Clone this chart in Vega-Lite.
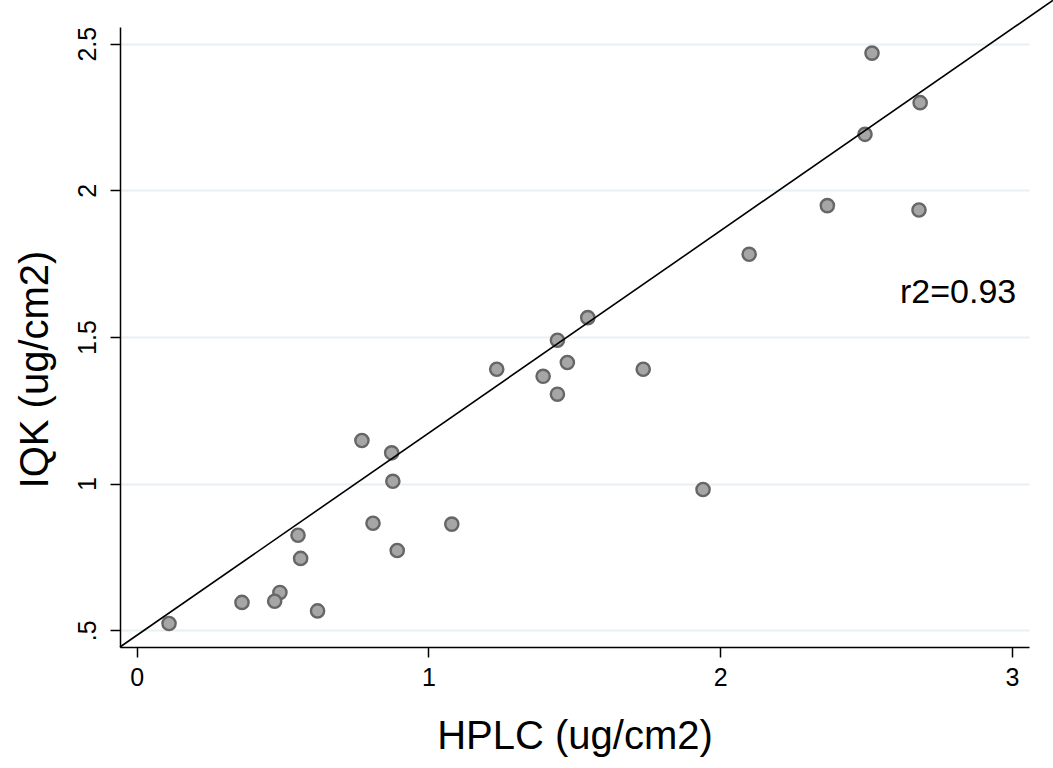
{
  "$schema": "https://vega.github.io/schema/vega-lite/v6.json",
  "width": 909,
  "height": 620,
  "autosize": {"type": "none"},
  "padding": {"left": 120, "top": 27, "right": 24, "bottom": 121},
  "background": "white",
  "config": {
    "view": {"stroke": null},
    "font": "Liberation Sans"
  },
  "datasets": {
    "pts": [
      {"HPLC": 2.520, "IQK": 2.468},
      {"HPLC": 2.685, "IQK": 2.299},
      {"HPLC": 2.496, "IQK": 2.191},
      {"HPLC": 2.367, "IQK": 1.948},
      {"HPLC": 2.681, "IQK": 1.933},
      {"HPLC": 2.099, "IQK": 1.782},
      {"HPLC": 1.546, "IQK": 1.566},
      {"HPLC": 1.442, "IQK": 1.489},
      {"HPLC": 1.476, "IQK": 1.413},
      {"HPLC": 1.736, "IQK": 1.390},
      {"HPLC": 1.234, "IQK": 1.390},
      {"HPLC": 1.393, "IQK": 1.366},
      {"HPLC": 1.442, "IQK": 1.305},
      {"HPLC": 0.772, "IQK": 1.147},
      {"HPLC": 0.874, "IQK": 1.105},
      {"HPLC": 0.878, "IQK": 1.008},
      {"HPLC": 1.941, "IQK": 0.980},
      {"HPLC": 0.810, "IQK": 0.865},
      {"HPLC": 1.080, "IQK": 0.862},
      {"HPLC": 0.553, "IQK": 0.824},
      {"HPLC": 0.562, "IQK": 0.745},
      {"HPLC": 0.893, "IQK": 0.772},
      {"HPLC": 0.491, "IQK": 0.629},
      {"HPLC": 0.473, "IQK": 0.599},
      {"HPLC": 0.361, "IQK": 0.595},
      {"HPLC": 0.620, "IQK": 0.566},
      {"HPLC": 0.111, "IQK": 0.523}
    ],
    "fit": [
      {"x": -0.057, "y": 0.443, "x2": 3.14, "y2": 2.648}
    ],
    "lab": [
      {"x": 2.815, "y": 1.649, "t": "r2=0.93"}
    ]
  },
  "layer": [
    {
      "data": {"name": "pts"},
      "mark": {"type": "point", "shape": "circle", "filled": true, "fill": "#a6a6a6", "stroke": "#666666", "strokeWidth": 2.4, "size": 175, "opacity": 1},
      "encoding": {
        "x": {
          "field": "HPLC", "type": "quantitative",
          "scale": {"domain": [-0.057, 3.058], "nice": false, "zero": false},
          "axis": {
            "values": [0, 1, 2, 3],
            "format": "~g",
            "title": "HPLC (ug/cm2)",
            "titleFontSize": 40, "titleFontWeight": "normal", "titleColor": "black",
            "titlePadding": 26,
            "labelFontSize": 25, "labelColor": "black", "labelPadding": 8,
            "tickSize": 10, "tickColor": "black", "tickWidth": 1.5,
            "domainColor": "black", "domainWidth": 1.5,
            "grid": false
          }
        },
        "y": {
          "field": "IQK", "type": "quantitative",
          "scale": {"domain": [0.443, 2.557], "nice": false, "zero": false},
          "axis": {
            "values": [0.5, 1, 1.5, 2, 2.5],
            "labelExpr": "datum.value == 0.5 ? '.5' : format(datum.value, '~g')",
            "title": "IQK (ug/cm2)",
            "titleFontSize": 40, "titleFontWeight": "normal", "titleColor": "black",
            "titlePadding": 20,
            "titleY": 342,
            "labelAngle": -90, "labelAlign": "center", "labelBaseline": "bottom",
            "labelFontSize": 25, "labelColor": "black", "labelPadding": 10,
            "tickSize": 10, "tickColor": "black", "tickWidth": 1.5,
            "domainColor": "black", "domainWidth": 1.5,
            "grid": true, "gridColor": "#e8f0f3", "gridWidth": 2
          }
        }
      }
    },
    {
      "data": {"name": "fit"},
      "mark": {"type": "rule", "color": "black", "strokeWidth": 1.6, "clip": false},
      "encoding": {
        "x": {"field": "x", "type": "quantitative"},
        "y": {"field": "y", "type": "quantitative"},
        "x2": {"field": "x2"},
        "y2": {"field": "y2"}
      }
    },
    {
      "data": {"name": "lab"},
      "mark": {"type": "text", "fontSize": 34, "color": "black", "align": "center", "baseline": "middle"},
      "encoding": {
        "x": {"field": "x", "type": "quantitative"},
        "y": {"field": "y", "type": "quantitative"},
        "text": {"field": "t"}
      }
    }
  ]
}
